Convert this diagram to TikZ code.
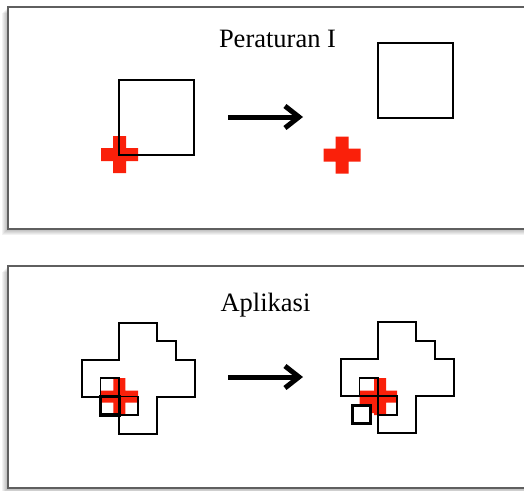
\documentclass[tikz,border=0pt]{standalone}
\usepackage{fontspec}
\setmainfont{Liberation Serif}
\usetikzlibrary{arrows.meta}
\definecolor{crossred}{RGB}{250,32,10}
\definecolor{framegray}{RGB}{95,95,95}
\begin{document}
\begin{tikzpicture}[x=1pt,y=-1pt,
  panelframe/.style={draw=framegray,line width=1.4pt,fill=white},
  outline/.style={draw=black,line width=2pt},
  cell/.style={draw=black,line width=1.8pt},
  marker/.style={draw=black,line width=3.6pt},
  redplus/.style={fill=crossred},
  rulearrow/.style={line width=5pt,-{Straight Barb[length=14pt,width=22pt]}},
  caption/.style={font=\fontsize{26.5}{30}\selectfont,anchor=base,inner sep=0pt},
]
\useasboundingbox (0,0) rectangle (524,490);
\clip (0,0) rectangle (524,490);

% panels with a soft shadow on the left and below
\foreach \ya/\yb in {7/229,266/488}{
  \foreach \k in {1,...,6}
    \fill[black,opacity=0.05] (8-\k,\ya+\k) rectangle (540-\k,\yb+\k);
  \path[panelframe] (8,\ya) rectangle (540,\yb);
}

% ---- rule: the square moves off the cross ----
\node[caption] (ruletitle) at (277.5,47.5) {Peraturan I};

\fill[redplus,shift={(119.5,154.5)}] (-6.5,-18.5) rectangle (6.5,18.5) (-18.5,-6.5) rectangle (18.5,6.5);
\draw[outline] (119,80) rectangle (194,155);

\coordinate (r1from) at (228,117);
\coordinate (r1to) at (303,117);
\draw[rulearrow] (r1from) -- (r1to);

\fill[redplus,shift={(342,155)}] (-6.5,-18.5) rectangle (6.5,18.5) (-18.5,-6.5) rectangle (18.5,6.5);
\draw[outline] (378,43) rectangle (453,118);

% ---- application on a stepped region ----
\node[caption] (apptitle) at (265.5,311.7) {Aplikasi};

% before
\fill[redplus] (113.3,378) rectangle (125.3,415) (100.5,390.5) rectangle (138.1,402.5);
\begin{scope}[shift={(81.7,322.5)},xscale=18.8,yscale=18.5]
  \draw[outline] (2,0) -- (4,0) -- (4,1) -- (5,1) -- (5,2) -- (6,2) -- (6,4) -- (4,4)
    -- (4,6) -- (2,6) -- (2,4) -- (0,4) -- (0,2) -- (2,2) -- cycle;
  \draw[cell] (1,3) rectangle (2,4) (2,4) rectangle (3,5);
  \draw[marker] (1,4) rectangle (2,5);
\end{scope}

\coordinate (r2from) at (228,377);
\coordinate (r2to) at (303,377);
\draw[rulearrow] (r2from) -- (r2to);

% after
\fill[redplus] (374,378) rectangle (386,415) (359.5,390.5) rectangle (397,402.5)
  (359.5,390.5) rectangle (380,413);
\begin{scope}[shift={(340.7,322.3)},xscale=18.8,yscale=18.5]
  \draw[outline] (2,0) -- (4,0) -- (4,1) -- (5,1) -- (5,2) -- (6,2) -- (6,4) -- (4,4)
    -- (4,6) -- (2,6) -- (2,4) -- (0,4) -- (0,2) -- (2,2) -- cycle;
  \draw[cell] (1,3) rectangle (2,4) (2,4) rectangle (3,5);
\end{scope}
\draw[marker,fill=white] (352.5,405.5) rectangle (370.5,423.5);
\end{tikzpicture}
\end{document}
